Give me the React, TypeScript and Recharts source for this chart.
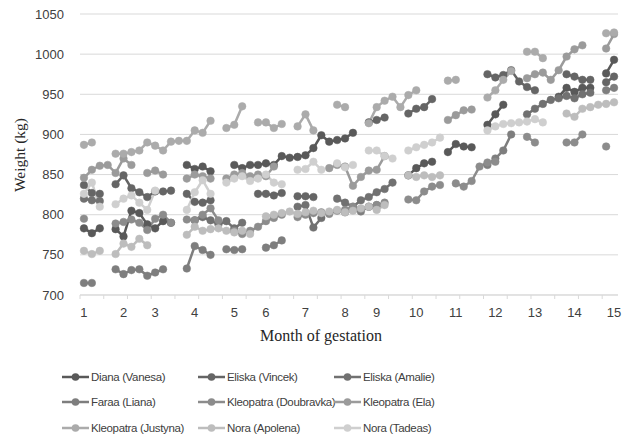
import { LineChart, Line, XAxis, YAxis, CartesianGrid } from 'recharts'

// weekly weighings, 68 categories; month labels sit on some of them
const categoryCount = 68
const monthTickIndex = [0, 5, 9, 14, 19, 23, 28, 33, 37, 42, 47, 52, 57, 62, 67]
const monthTickLabel = ['1', '2', '3', '4', '5', '6', '7', '8', '9', '10', '11', '12', '13', '14', '15']
const boundaryTicks = [-0.5, 2.5, 5.5, 8.5, 11.5, 14.5, 17.5, 20.5, 23.5, 26.5, 29.5, 32.5, 35.5, 38.5, 41.5, 44.5, 47.5, 50.5, 53.5, 56.5, 59.5, 62.5, 65.5]
const weightTicks = [700, 750, 800, 850, 900, 950, 1000, 1050]

type Segment = [number, number[]]

// [first category index, values...]
const dianaVanesa: Segment[] = [
  [0, [783, 777, 783]],
  [4, [782, 773, 805, 802, 788, 783, 792, 790]],
  [13, [862, 857, 860, 854]],
  [19, [862, 858, 862, 862, 864, 862, 873, 871, 872, 874, 883, 899, 891, 893, 895, 902]],
  [41, [849, 858, 864, 866]],
  [46, [878, 888, 885, 884]],
  [51, [912, 925, 937]],
  [60, [947, 958, 953, 958, 958]],
  [66, [976, 993]],
]
const eliskaVincek: Segment[] = [
  [0, [837, 827, 826]],
  [4, [838, 849, 833, 828, 822, 829, 829, 830]],
  [13, [826, 816, 815, 818]],
  [22, [826, 826, 824, 827]],
  [27, [823, 823, 822]],
  [36, [915, 918, 921]],
  [41, [926, 932, 934, 944]],
  [51, [975, 971, 974, 980, 966, 959, 955]],
  [61, [975, 972, 968, 968]],
  [66, [965, 972]],
]
const eliskaAmalie: Segment[] = [
  [0, [820, 818, 817]],
  [14, [793, 797, 793, 788, 792, 783, 790]],
  [27, [810, 812, 784, 796]],
  [32, [820, 815, 810, 818, 822, 828, 832, 840]],
  [56, [925, 932, 938, 943, 945, 948, 945, 950, 952]],
]
const faraaLiana: Segment[] = [
  [0, [715, 715]],
  [4, [732, 726, 731, 732, 724, 728, 732]],
  [13, [733, 761, 756, 750]],
  [18, [757, 756, 757]],
  [23, [759, 762, 768]],
  [33, [803, 806, 804, 810, 812]],
  [51, [862, 870, 880, 900]],
  [66, [955, 958]],
]
const kleopatraDoubravka: Segment[] = [
  [0, [795]],
  [4, [789, 791, 794, 790, 781, 795, 800, 790]],
  [13, [794, 793, 800, 808, 793]],
  [19, [780, 776, 780, 785, 792, 796, 800]],
  [27, [797, 800, 802, 803, 801, 805, 806, 810, 807, 810, 812, 815]],
  [41, [819, 818, 829, 835, 837]],
  [47, [839, 835, 842, 860, 865, 866]],
  [56, [897, 890]],
  [61, [890, 890, 900]],
  [66, [885]],
]
const kleopatraEla: Segment[] = [
  [0, [846, 856, 861, 862, 852, 870, 862]],
  [8, [852, 855, 850]],
  [13, [845, 850, 848, 845]],
  [18, [845, 850, 852, 848, 850, 848, 860]],
  [31, [858, 862, 860, 836, 847, 855, 856, 873]],
  [46, [918, 924, 930, 931]],
  [56, [970, 975, 977, 968, 980, 997, 1006, 1011]],
  [66, [1007, 1025]],
]
const kleopatraJustyna: Segment[] = [
  [0, [887, 890]],
  [4, [876, 876, 878, 880, 890, 886, 880, 891, 892, 892, 905, 902, 917]],
  [18, [908, 912, 935]],
  [22, [915, 915, 908, 913]],
  [27, [910, 925, 905]],
  [32, [937, 934]],
  [36, [914, 934, 942, 947, 934, 949, 955]],
  [46, [967, 968]],
  [51, [946, 955, 968, 979]],
  [56, [1003, 1003, 995]],
  [66, [1026, 1027]],
]
const noraApolena: Segment[] = [
  [0, [755, 751, 755]],
  [4, [751, 764, 760, 770, 762]],
  [13, [775, 785, 780, 782, 783, 780, 778, 780, 776]],
  [23, [798, 800, 802, 804, 801, 803, 805, 802, 804, 806, 803, 805, 808, 810, 806, 812]],
  [41, [849, 847, 849, 847, 849]],
  [61, [926, 922, 932, 934, 937, 938, 940]],
]
const noraTadeas: Segment[] = [
  [0, [826, 840, 810]],
  [4, [813, 820, 824, 815, 806, 830]],
  [13, [806, 828, 843, 826]],
  [18, [840, 845, 848, 842, 845, 850, 840, 838]],
  [27, [856, 857, 866, 856]],
  [32, [864, 859, 862]],
  [36, [880, 880, 873, 870]],
  [41, [880, 884, 887, 890, 896]],
  [51, [905, 910, 913, 914, 915, 916, 919, 915]],
]

const series = [
  { key: 'dv', name: 'Diana (Vanesa)', color: '#595959', segments: dianaVanesa },
  { key: 'ev', name: 'Eliska (Vincek)', color: '#656565', segments: eliskaVincek },
  { key: 'ea', name: 'Eliska (Amalie)', color: '#717171', segments: eliskaAmalie },
  { key: 'fl', name: 'Faraa (Liana)', color: '#7e7e7e', segments: faraaLiana },
  { key: 'kd', name: 'Kleopatra (Doubravka)', color: '#8c8c8c', segments: kleopatraDoubravka },
  { key: 'ke', name: 'Kleopatra (Ela)', color: '#9b9b9b', segments: kleopatraEla },
  { key: 'kj', name: 'Kleopatra (Justyna)', color: '#ababab', segments: kleopatraJustyna },
  { key: 'na', name: 'Nora (Apolena)', color: '#bdbdbd', segments: noraApolena },
  { key: 'nt', name: 'Nora (Tadeas)', color: '#cfcfcf', segments: noraTadeas },
]

const rows: Record<string, number | null>[] = []
for (let i = 0; i < categoryCount; i++) {
  const row: Record<string, number | null> = { x: i }
  series.forEach((s) => {
    row[s.key] = null
  })
  rows.push(row)
}
series.forEach((s) => {
  s.segments.forEach(([start, values]) => {
    values.forEach((v, j) => {
      rows[start + j][s.key] = v
    })
  })
})

const axisFont = "'Liberation Sans', Arial, sans-serif"
const titleFont = "'Liberation Serif', 'Times New Roman', serif"

function MonthTick(props: { x?: number; y?: number; payload?: { value: number } }) {
  const { x = 0, y = 0, payload } = props
  const v = payload ? payload.value : 0
  if (!Number.isInteger(v)) {
    return <line x1={x} y1={y} x2={x} y2={y + 4} stroke="#d9d9d9" strokeWidth={1} />
  }
  const idx = monthTickIndex.indexOf(v)
  return (
    <text x={x} y={y + 22} textAnchor="middle" fill="#404040" fontSize={13} fontFamily={axisFont}>
      {idx >= 0 ? monthTickLabel[idx] : ''}
    </text>
  )
}

const legendCols = [62, 198, 334]
const legendRows = [377, 402, 428]

export default function App() {
  return (
    <div style={{ position: 'relative', width: 629, height: 441, background: '#fff' }}>
      <style>{'body{margin:0}'}</style>
      <LineChart
        width={629}
        height={350}
        data={rows}
        margin={{ top: 14, right: 11, bottom: 25, left: 0 }}
      >
        <CartesianGrid vertical={false} stroke="#d9d9d9" />
        <XAxis
          dataKey="x"
          type="number"
          domain={[-0.5, 67.5]}
          ticks={[...boundaryTicks, ...monthTickIndex]}
          interval={0}
          height={30}
          tickSize={0}
          tickMargin={0}
          tickLine={false}
          axisLine={{ stroke: '#d9d9d9' }}
          tick={<MonthTick />}
        />
        <YAxis
          type="number"
          domain={[700, 1050]}
          ticks={weightTicks}
          width={80}
          axisLine={false}
          tickLine={false}
          tickMargin={10}
          tick={{ fill: '#404040', fontSize: 13, fontFamily: axisFont }}
        />
        {series.map((s) => (
          <Line
            key={s.key}
            dataKey={s.key}
            name={s.name}
            stroke={s.color}
            strokeWidth={2.5}
            dot={{ r: 3.8, fill: s.color, stroke: s.color, strokeWidth: 0.5 }}
            isAnimationActive={false}
            connectNulls={false}
          />
        ))}
      </LineChart>

      <div
        style={{
          position: 'absolute',
          left: 20,
          top: 155,
          transform: 'translate(-50%, -50%) rotate(-90deg)',
          fontFamily: titleFont,
          fontSize: 15.5,
          color: '#262626',
          whiteSpace: 'nowrap',
        }}
      >
        Weight (kg)
      </div>
      <div
        style={{
          position: 'absolute',
          left: 321,
          top: 336,
          transform: 'translate(-50%, -50%)',
          fontFamily: titleFont,
          fontSize: 16,
          color: '#262626',
          whiteSpace: 'nowrap',
        }}
      >
        Month of gestation
      </div>

      {series.map((s, i) => {
        const left = legendCols[i % 3]
        const top = legendRows[Math.floor(i / 3)]
        return (
          <div
            key={s.key}
            style={{
              position: 'absolute',
              left,
              top: top - 9,
              height: 18,
              display: 'flex',
              alignItems: 'center',
              whiteSpace: 'nowrap',
            }}
          >
            <svg width={28} height={18}>
              <line x1={0} y1={9} x2={27} y2={9} stroke={s.color} strokeWidth={2.5} />
              <circle cx={13.5} cy={9} r={3.8} fill={s.color} />
            </svg>
            <span
              style={{
                fontFamily: axisFont,
                fontSize: 11.5,
                letterSpacing: -0.35,
                color: '#404040',
                marginLeft: 1,
              }}
            >
              {s.name}
            </span>
          </div>
        )
      })}
    </div>
  )
}
